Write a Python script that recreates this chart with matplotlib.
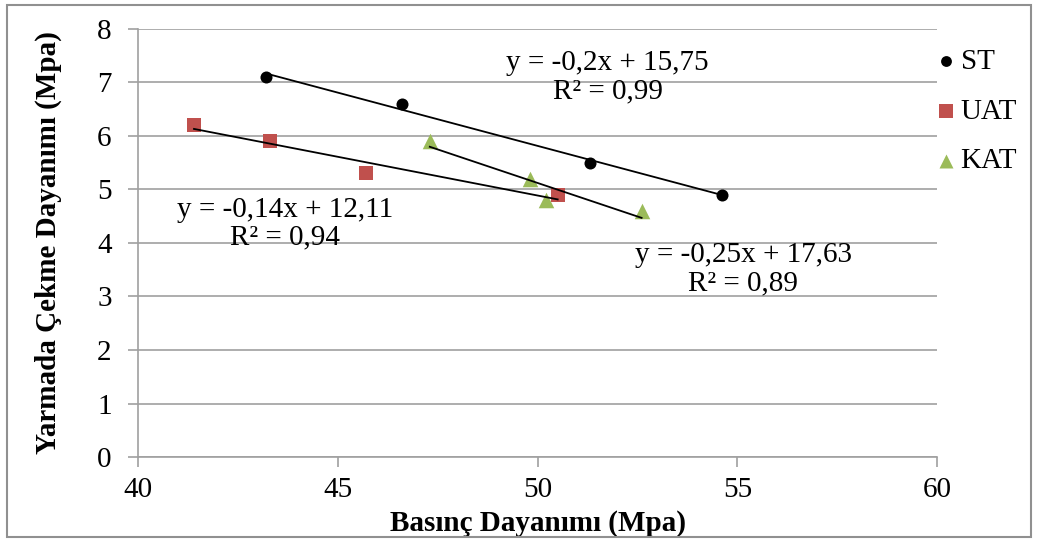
import numpy as np
import matplotlib.pyplot as plt
from matplotlib.patches import Rectangle

# veriler
st_x = [43.2, 46.6, 51.3, 54.6]
st_y = [7.1, 6.6, 5.5, 4.9]
uat_x = [41.4, 43.3, 45.7, 50.5]
uat_y = [6.2, 5.9, 5.3, 4.9]
kat_x = [47.3, 49.8, 50.2, 52.6]
kat_y = [5.9, 5.2, 4.8, 4.6]

x_ticks = [40, 45, 50, 55, 60]
y_ticks = [0, 1, 2, 3, 4, 5, 6, 7, 8]

st_eq = "y = -0,2x + 15,75\nR² = 0,99"
uat_eq = "y = -0,14x + 12,11\nR² = 0,94"
kat_eq = "y = -0,25x + 17,63\nR² = 0,89"

FS = 21
SERIF = "Liberation Serif"
plt.rcParams["font.family"] = "serif"
plt.rcParams["font.serif"] = [SERIF, "DejaVu Serif"]

fig = plt.figure(figsize=(10.38, 5.41), dpi=100)
ax = fig.add_axes([0.133, 0.155, 0.77, 0.792])

series = [
    ("ST", st_x, st_y, "black", "o", 75),
    ("UAT", uat_x, uat_y, "#c0504d", "s", 110),
    ("KAT", kat_x, kat_y, "#9bbb59", "^", 125),
]

for name, xs, ys, col, mk, sz in series:
    ax.scatter(xs, ys, color=col, marker=mk, s=sz, label=name, zorder=3, linewidths=0)
    # dogrusal egilim cizgisi
    k, b = np.polyfit(xs, ys, 1)
    xx = np.array([min(xs), max(xs)])
    ax.plot(xx, k * xx + b, color="black", lw=1.3, zorder=4)

ax.text(51.75, 7.1, st_eq, ha="center", va="center", fontsize=FS, linespacing=1.1, family=SERIF)
ax.text(43.68, 4.36, uat_eq, ha="center", va="center", fontsize=FS, linespacing=1.1, family=SERIF)
ax.text(55.15, 3.51, kat_eq, ha="center", va="center", fontsize=FS, linespacing=1.1, family=SERIF)

ax.set_xlim(40, 60)
ax.set_ylim(0, 8)
ax.set_xticks(x_ticks)
ax.set_xticklabels([str(t) for t in x_ticks], family=SERIF, fontsize=FS)
ax.set_yticks(y_ticks)
ax.set_yticklabels([str(t) for t in y_ticks], family=SERIF, fontsize=FS)
ax.grid(axis="y", color="#a0a0a0", lw=1.2)
ax.set_axisbelow(True)
for s in ["top", "right"]:
    ax.spines[s].set_visible(False)
for s in ["left", "bottom"]:
    ax.spines[s].set_color("#a0a0a0")
    ax.spines[s].set_linewidth(1.2)
ax.tick_params(colors="#a0a0a0", labelcolor="black", length=7, width=1.2)
ax.tick_params(axis="y", pad=12)
ax.tick_params(axis="x", pad=7)

ax.set_xlabel("Basınç Dayanımı (Mpa)", fontsize=FS, fontweight="bold", labelpad=5, family=SERIF)
ax.set_ylabel("Yarmada Çekme Dayanımı (Mpa)", fontsize=FS, fontweight="bold", labelpad=25,
              family=SERIF)

fig.legend(loc="upper left", bbox_to_anchor=(0.886, 0.932), frameon=False,
           prop={"family": SERIF, "size": FS}, handletextpad=0.0, labelspacing=0.8,
           borderaxespad=0, handlelength=1.0, markerscale=0.9)

fig.patches.append(Rectangle((0.007, 0.008), 0.986, 0.983, transform=fig.transFigure,
                             fill=False, edgecolor="#909090", lw=1.5))

fig.savefig("out.png", dpi=100)
